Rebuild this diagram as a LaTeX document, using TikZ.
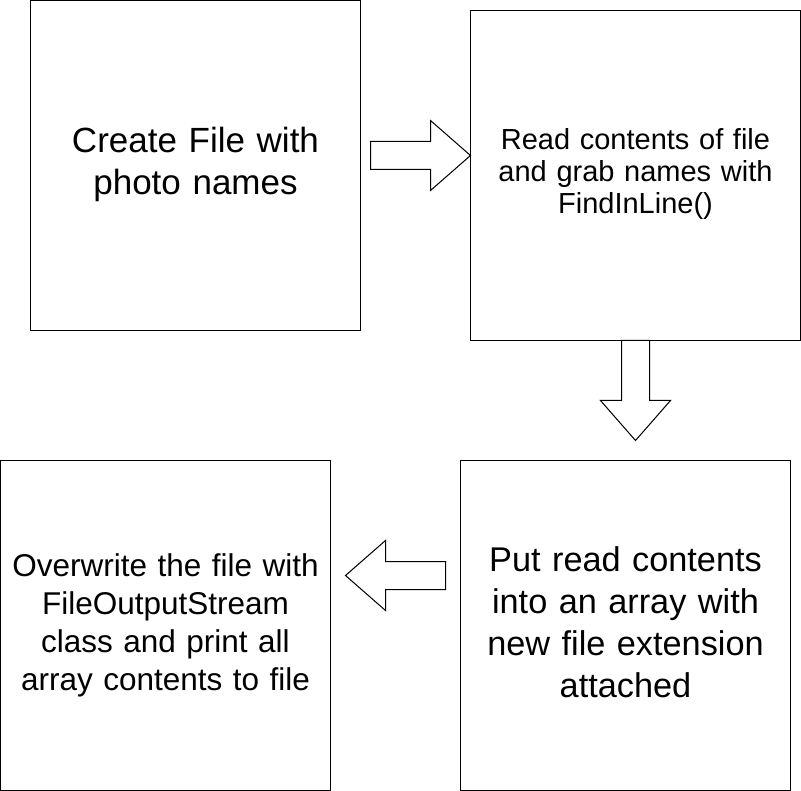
\documentclass[tikz,border=0pt]{standalone}
\usepackage{fontspec}
\setmainfont{Liberation Sans}
\begin{document}
\begin{tikzpicture}[x=1pt,y=-1pt,
  box/.style={draw=black,line width=1pt,fill=white,minimum width=330pt,minimum height=330pt,inner sep=0pt},
  boxtext/.style={inner sep=0pt,text width=325pt,align=center},
  blockarrow/.style={draw=black,line width=1pt,fill=white,line join=miter}]
\useasboundingbox (0,0) rectangle (801,791);
\node[box] (b1) at (195.5,165.5) {};
\node[box] (b2) at (635.5,175.5) {};
\node[box] (b3) at (625.5,625.5) {};
\node[box] (b4) at (165.5,625.5) {};
\node[boxtext,font=\fontsize{35}{42}\selectfont] (t1) at ([yshift=1pt]b1.center) {Create File with\\photo names};
\node[boxtext,font=\fontsize{29}{32}\selectfont] (t2) at ([yshift=1.5pt]b2.center) {Read contents of file\\and grab names with\\FindInLine()};
\node[boxtext,font=\fontsize{34.3}{42}\selectfont] (t3) at ([yshift=3pt]b3.center) {Put read contents\\into an array with\\new file extension\\attached};
\node[boxtext,font=\fontsize{31.5}{38}\selectfont] (t4) at (b4.center) {Overwrite the file with\\FileOutputStream\\class and print all\\array contents to file};
% right arrow
\draw[blockarrow] (370.5,141.5) -- (430.5,141.5) -- (430.5,120.5) -- (470.5,155.5) -- (430.5,190.5) -- (430.5,169.5) -- (370.5,169.5) -- cycle;
% down arrow
\draw[blockarrow] (621.5,340.5) -- (649.5,340.5) -- (649.5,400.5) -- (670.5,400.5) -- (635.5,440.5) -- (600.5,400.5) -- (621.5,400.5) -- cycle;
% left arrow
\draw[blockarrow] (445.5,561.5) -- (385.5,561.5) -- (385.5,540.5) -- (345.5,575.5) -- (385.5,610.5) -- (385.5,589.5) -- (445.5,589.5) -- cycle;
\end{tikzpicture}
\end{document}
